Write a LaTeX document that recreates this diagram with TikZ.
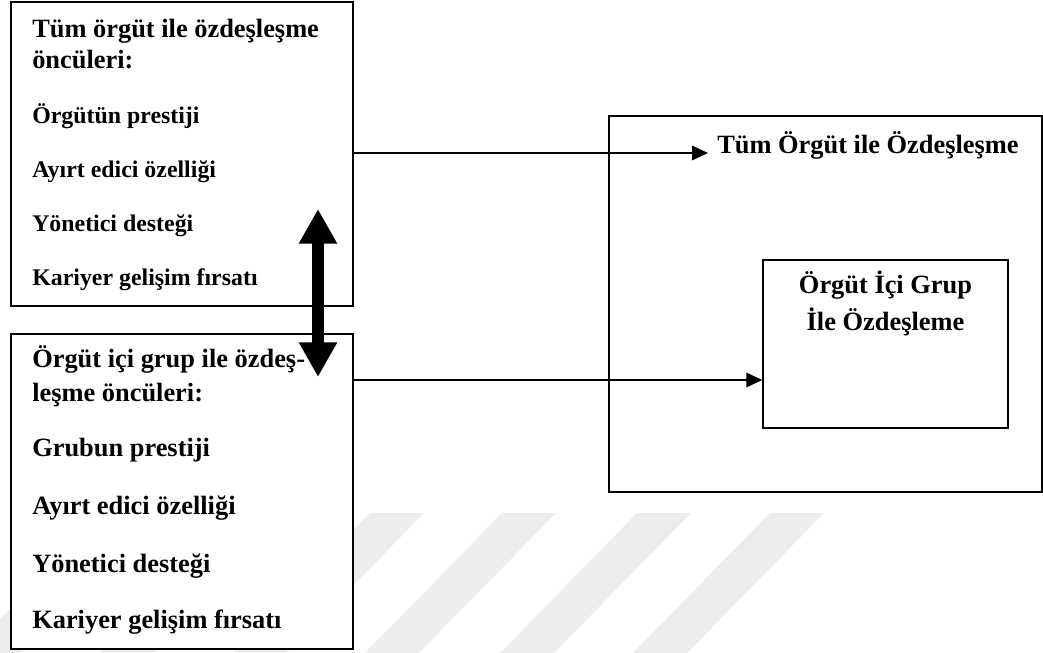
\documentclass[tikz,border=0pt]{standalone}
\usepackage{fontspec}
\setmainfont{Liberation Serif}
\usetikzlibrary{arrows.meta}

\begin{document}
\begin{tikzpicture}[x=0.75pt,y=-0.75pt,
  frame/.style={draw, line width=1.1pt, fill=white, inner sep=0pt},
  bigframe/.style={draw, line width=1.8pt, inner sep=0pt},
  txt/.style={anchor=base west, inner sep=0pt, font=\bfseries\fontsize{19.8}{24}\selectfont},
  item/.style={anchor=base west, inner sep=0pt, font=\bfseries\fontsize{17.9}{22}\selectfont},
  ctxt/.style={anchor=base, inner sep=0pt, font=\bfseries\fontsize{19.8}{24}\selectfont},
  link/.style={line width=0.9pt, -{Triangle[length=12pt,width=11pt]}},
  both/.style={line width=8.8pt, {Triangle[length=26pt,width=27pt]}-{Triangle[length=26pt,width=27pt]}},
  stripe/.style={fill=black!7, draw=none}
]
\useasboundingbox (0,0) rectangle (1043,653);

% faint diagonal background bands
\foreach \l in {104,237,370,502,637,770}
  \fill[stripe] (\l,513) -- (\l+54,513) -- (\l+54-137,653) -- (\l-137,653) -- cycle;

% antecedent boxes
\node[frame, minimum width=256.5pt, minimum height=228pt] (boxA) at (182,154) {};
\node[frame, minimum width=256.5pt, minimum height=236.25pt] (boxB) at (182,491.5) {};

% identification boxes
\node[bigframe, minimum width=324.75pt, minimum height=282pt] (outer) at (825.5,304) {};
\node[frame, minimum width=183.75pt, minimum height=126pt] (inner) at (885.5,344) {};

% text of the first antecedent box
\node[txt]  (a1) at (32,37)  {Tüm örgüt ile özdeşleşme};
\node[txt]  (a2) at (32,68)  {öncüleri:};
\node[item] (a3) at (32,123) {Örgütün prestiji};
\node[item] (a4) at (32,177) {Ayırt edici özelliği};
\node[item] (a5) at (32,231) {Yönetici desteği};
\node[item] (a6) at (32,285) {Kariyer gelişim fırsatı};

% text of the second antecedent box
\node[txt] (b1) at (32,367) {Örgüt içi grup ile özdeş-};
\node[txt] (b2) at (32,401) {leşme öncüleri:};
\node[txt] (b3) at (32,456) {Grubun prestiji};
\node[txt] (b4) at (32,514) {Ayırt edici özelliği};
\node[txt] (b5) at (32,572) {Yönetici desteği};
\node[txt] (b6) at (32,628) {Kariyer gelişim fırsatı};

% titles of the identification boxes
\node[txt] (t1) at (717,153) {Tüm Örgüt ile Özdeşleşme};
\node[ctxt] (i1) at (885.5,293) {Örgüt İçi Grup};
\node[ctxt] (i2) at (885.5,330) {İle Özdeşleme};

% connectors
\coordinate (endA) at (708,153);
\draw[link] (boxA.east |- endA) -- (endA);
\coordinate (startB) at (boxB.east |- 0,380);
\draw[link] (startB) -- (inner.west |- startB);

% two-way link between the antecedent boxes
\coordinate (upTip) at (318,209);
\coordinate (downTip) at (318,377);
\draw[both] (upTip) -- (downTip);
\end{tikzpicture}
\end{document}
